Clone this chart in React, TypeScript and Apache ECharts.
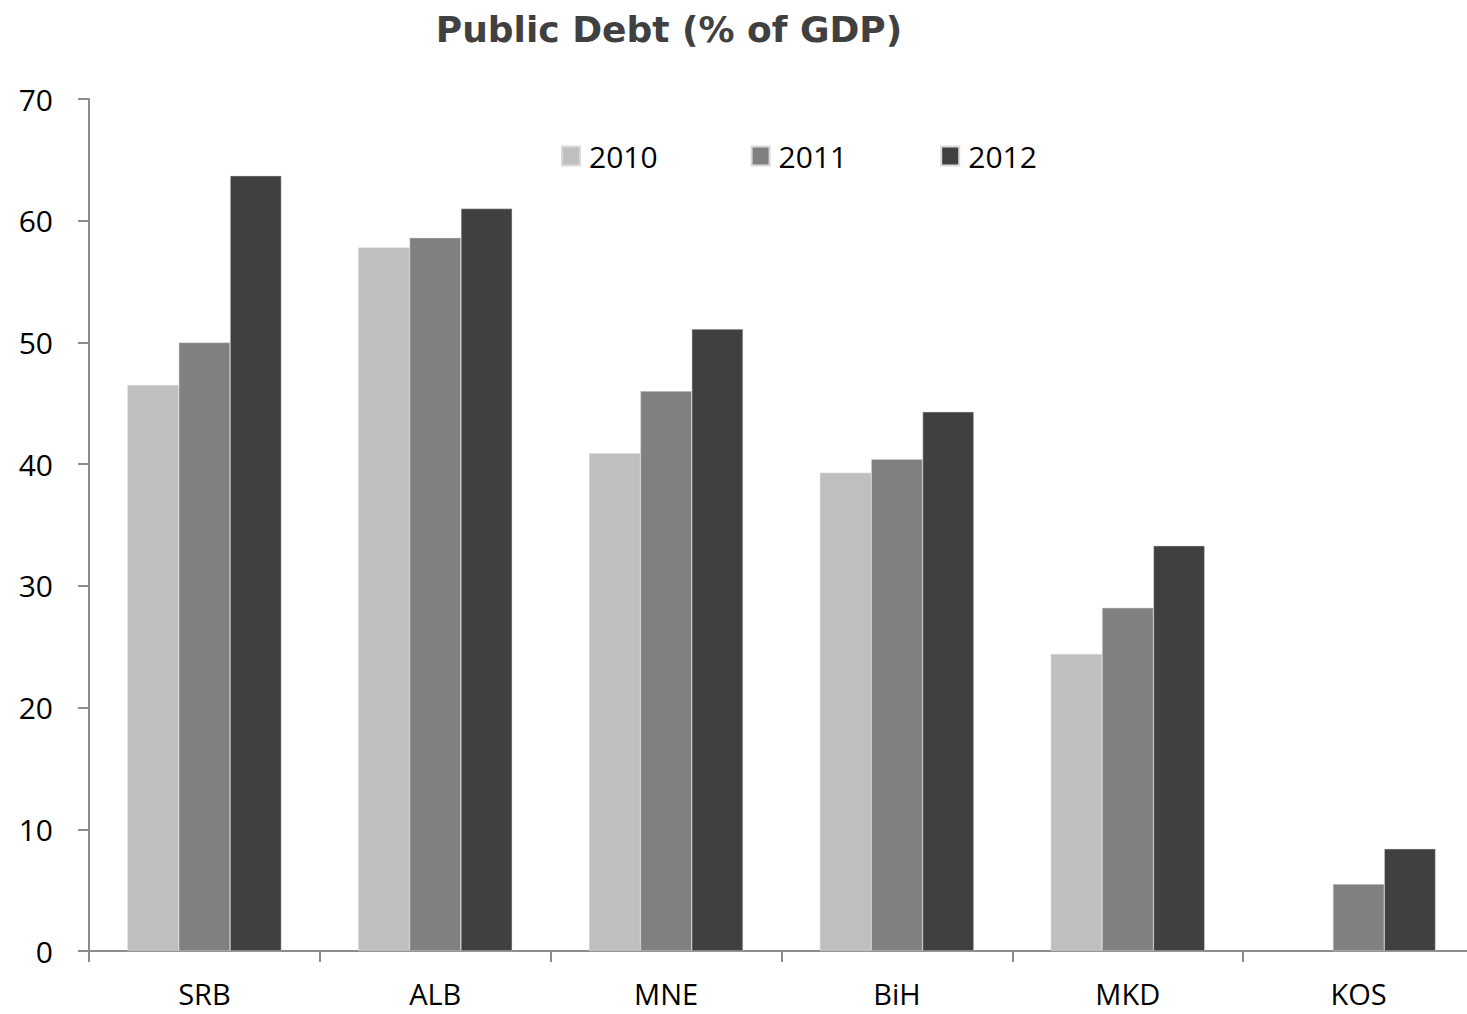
import React, { useEffect, useRef } from "react";
import * as echarts from "echarts";

const categories = ["SRB", "ALB", "MNE", "BiH", "MKD", "KOS"];
const years = ["2010", "2011", "2012"];
const debt2010: (number | null)[] = [46.5, 57.8, 40.9, 39.3, 24.4, null];
const debt2011: (number | null)[] = [50.0, 58.6, 46.0, 40.4, 28.2, 5.5];
const debt2012: (number | null)[] = [63.7, 61.0, 51.1, 44.3, 33.3, 8.4];
const colors = ["#bfbfbf", "#808080", "#404040"];
const yTicks = { min: 0, max: 70, interval: 10 };

export default function App() {
  const ref = useRef<HTMLDivElement>(null);
  useEffect(() => {
    if (!ref.current) return;
    const chart = echarts.init(ref.current, undefined, { renderer: "svg" });
    const seriesData = [debt2010, debt2011, debt2012];
    chart.setOption({
      animation: false,
      backgroundColor: "#ffffff",
      graphic: [
        {
          type: "text",
          x: 669,
          y: 29,
          style: {
            text: "Public Debt (% of GDP)",
            fontFamily: "DejaVu Sans",
            fontWeight: "bold",
            fontSize: 36,
            fill: "#404040",
            textAlign: "center",
            textVerticalAlign: "middle",
          },
        },
      ],
      legend: {
        left: 561,
        top: 141,
        padding: 0,
        itemWidth: 18,
        itemHeight: 19,
        itemGap: 93,
        icon: "rect",
        textStyle: {
          fontFamily: "Open Sans",
          fontSize: 30,
          lineHeight: 30,
          color: "#000",
          padding: [0, 0, 0, 4],
        },
        data: years,
      },
      grid: { left: 89, right: 0, top: 99, bottom: 63 },
      xAxis: {
        type: "category",
        data: categories,
        axisLine: { lineStyle: { color: "#8c8c8c", width: 2 } },
        axisTick: { show: true, length: 11, lineStyle: { color: "#8c8c8c", width: 2 } },
        axisLabel: { fontFamily: "Open Sans", fontSize: 29, lineHeight: 26, color: "#000", margin: 29 },
      },
      yAxis: {
        type: "value",
        min: yTicks.min,
        max: yTicks.max,
        interval: yTicks.interval,
        splitLine: { show: false },
        axisLine: { show: true, lineStyle: { color: "#8c8c8c", width: 2 } },
        axisTick: { show: true, length: 11, lineStyle: { color: "#8c8c8c", width: 2 } },
        axisLabel: { fontFamily: "Open Sans", fontSize: 30, color: "#000", margin: 36 },
      },
      series: years.map((y, i) => ({
        name: y,
        type: "bar",
        data: seriesData[i],
        barGap: "0%",
        barCategoryGap: "33.3%",
        itemStyle: { color: colors[i], borderColor: "#d9d9d9", borderWidth: 0.5 },
      })),
    });
    return () => chart.dispose();
  }, []);
  return (
    <div
      style={{ position: "absolute", left: 0, top: 0, width: 1467, height: 1014, overflow: "hidden" }}
    >
      <div ref={ref} style={{ width: 1474, height: 1014 }} />
    </div>
  );
}
